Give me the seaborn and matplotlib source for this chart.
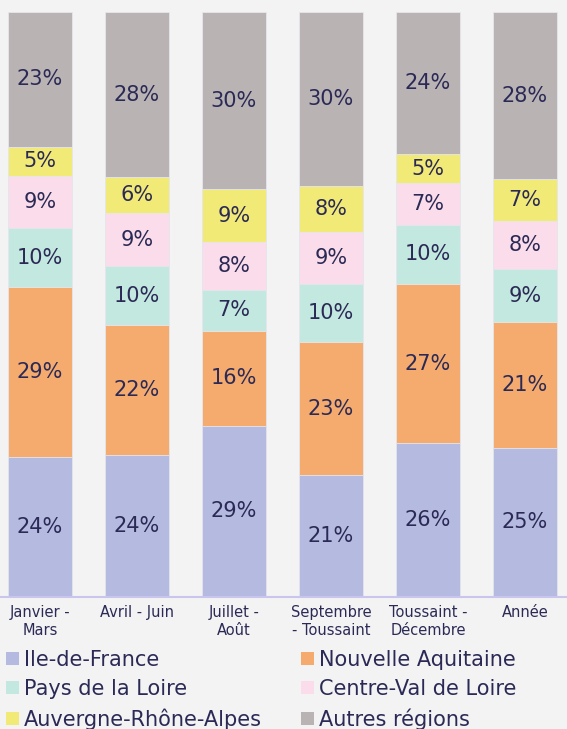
import numpy as np
import pandas as pd
import matplotlib
matplotlib.use("Agg")
import matplotlib.pyplot as plt
import seaborn as sns
from matplotlib.patches import Patch

periods = ["Janvier -\nMars", "Avril - Juin", "Juillet -\nAoût", "Septembre\n- Toussaint", "Toussaint -\nDécembre", "Année"]
regions = ["Ile-de-France", "Nouvelle Aquitaine", "Pays de la Loire", "Centre-Val de Loire", "Auvergne-Rhône-Alpes", "Autres régions"]
ile_de_france = [24, 24, 29, 21, 26, 25]
nouvelle_aquitaine = [29, 22, 16, 23, 27, 21]
pays_de_la_loire = [10, 10, 7, 10, 10, 9]
centre_val_de_loire = [9, 9, 8, 9, 7, 8]
auvergne_rhone_alpes = [5, 6, 9, 8, 5, 7]
autres_regions = [23, 28, 30, 30, 24, 28]
colors = ["#b5bae0", "#f5ab6e", "#c3e8df", "#fadcea", "#f2ea76", "#b9b3b3"]

series = [ile_de_france, nouvelle_aquitaine, pays_de_la_loire, centre_val_de_loire, auvergne_rhone_alpes, autres_regions]
vals = np.array(series, dtype=float)
totals = vals.sum(axis=0)
norm = vals / totals * 100
cum = np.cumsum(norm, axis=0)

sns.set_theme(style="white")
plt.rcParams['font.family'] = ['DejaVu Sans']
bg = "#f3f3f3"
txt = "#2b2a56"

fig = plt.figure(figsize=(5.67, 7.29), dpi=100, facecolor=bg)
ax = fig.add_axes([0, 1 - 597/729, 1, (597 - 12)/729])
ax.set_facecolor(bg)

for i in range(len(regions) - 1, -1, -1):
    df = pd.DataFrame({"period": periods, "value": cum[i]})
    sns.barplot(data=df, x="period", y="value", color=colors[i], width=0.665,
                saturation=1, ax=ax, edgecolor="#e6e6ee", linewidth=0.6)

for i in range(len(regions)):
    for j in range(len(periods)):
        mid = cum[i, j] - norm[i, j] / 2
        ax.text(j, mid, f"{series[i][j]}%", ha="center", va="center",
                fontsize=15, color=txt)

ax.set_ylim(0, 100)
ax.set_xlim(-0.412, 5.433)
ax.set_xlabel("")
ax.set_ylabel("")
ax.set_yticks([])
ax.tick_params(axis="x", length=0, pad=6, labelsize=10.5, labelcolor=txt)
for lab in ax.get_xticklabels():
    lab.set_linespacing(1.25)
for s in ["top", "left", "right"]:
    ax.spines[s].set_visible(False)
ax.spines["bottom"].set_color("#c9c5ee")
ax.spines["bottom"].set_linewidth(1.5)

cols = [[0, 2, 4], [1, 3, 5]]
xpos = [6/567, 301/567]
for c, idxs in enumerate(cols):
    handles = [Patch(facecolor=colors[k], edgecolor="none") for k in idxs]
    labels = [regions[k] for k in idxs]
    leg = fig.legend(handles, labels, ncol=1, loc="upper left",
                     bbox_to_anchor=(xpos[c], 1 - 650/729),
                     frameon=False, fontsize=15, labelcolor=txt,
                     handlelength=0.6, handleheight=0.6, handletextpad=0.25,
                     labelspacing=0.44, borderaxespad=0, borderpad=0)

fig.savefig("out.png", dpi=100, facecolor=bg)
